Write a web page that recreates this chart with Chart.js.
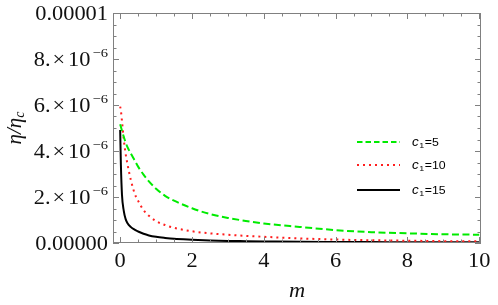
<!DOCTYPE html>
<html>
<head>
<meta charset="utf-8">
<script src="https://cdn.jsdelivr.net/npm/chart.js@4.4.1/dist/chart.umd.min.js"></script>
<style>
html, body { margin: 0; padding: 0; background: #fff; }
.preload { position: absolute; left: -9999px; top: 0; }
</style>
</head>
<body>
<canvas id="chart" width="498" height="305"></canvas>
<span class="preload" style="font-family:'Liberation Serif'">0.1 &#951;</span>
<span class="preload" style="font-family:'Liberation Serif';font-style:italic">m &#951;c</span>
<span class="preload" style="font-family:'Liberation Sans'">c1=5</span>
<span class="preload" style="font-family:'Liberation Sans';font-style:italic">c</span>
<script>
// m values (x) and eta/eta_c in units of 1e-6
var mValues = [0, 0.02, 0.05, 0.1, 0.15, 0.2, 0.3, 0.4, 0.5, 0.65, 0.8, 1, 1.25, 1.5, 2, 2.5, 3, 3.5, 4, 5, 6, 7, 8, 9, 10];
var etaC5  = [5.16, 5.05, 4.88, 4.62, 4.38, 4.18, 3.88, 3.6, 3.32, 2.97, 2.68, 2.36, 2.05, 1.84, 1.51, 1.26, 1.09, 0.96, 0.85, 0.7, 0.56, 0.47, 0.42, 0.38, 0.36];
var etaC10 = [5.93, 5.75, 5.3, 4.5, 3.9, 3.45, 2.72, 2.17, 1.83, 1.43, 1.18, 0.95, 0.78, 0.66, 0.51, 0.42, 0.36, 0.31, 0.27, 0.2, 0.15, 0.12, 0.1, 0.08, 0.07];
var etaC15 = [4.91, 3.4, 2.1, 1.4, 1.05, 0.87, 0.69, 0.58, 0.5, 0.4, 0.33, 0.27, 0.22, 0.18, 0.14, 0.11, 0.09, 0.08, 0.07, 0.05, 0.045, 0.04, 0.035, 0.03, 0.03];

var seriesNames = ['5', '10', '15'];
var xTicks = [0, 2, 4, 6, 8, 10];
var yTicks = [0, 2, 4, 6, 8, 10];
var yTickMant = ['0.00000', '2.', '4.', '6.', '8.', '0.00001'];
var yTickExp = ['', '\u22126', '\u22126', '\u22126', '\u22126', ''];

var colors = ['rgb(0,235,0)', 'rgb(255,30,30)', '#000'];
var dashes = [[7, 3.5], [2, 4], []];
var widths = [2, 2, 2];

var SERIF = '"Liberation Serif", "Times New Roman", Times, serif';
var SANS = '"Liberation Sans", Arial, Helvetica, sans-serif';

function pts(ys) {
    return mValues.map(function (m, i) { return { x: m, y: ys[i] }; });
}

var SX = 1.12; // the picture is a bit wider than tall

function stretchText(ctx, txt, x, y) {
    ctx.save();
    ctx.translate(x, y);
    ctx.scale(SX, 1);
    ctx.fillText(txt, 0, 0);
    ctx.restore();
}

var framePlugin = {
    id: 'frame',
    afterDraw: function (chart) {
        var ctx = chart.ctx;
        var a = chart.chartArea;
        var xs = chart.scales.x, ys = chart.scales.y;
        ctx.save();

        // frame
        ctx.strokeStyle = '#808080';
        ctx.lineWidth = 1;
        ctx.strokeRect(a.left + 0.5, a.top + 0.5, a.right - a.left - 1, a.bottom - a.top - 1);

        // x ticks (bottom and top, inward)
        ctx.beginPath();
        for (var v = 0; v <= 10.001; v += 0.5) {
            var px = Math.round(xs.getPixelForValue(v)) + 0.5;
            var len = (Math.abs(v % 2) < 0.01) ? 6 : 3.5;
            ctx.moveTo(px, a.bottom); ctx.lineTo(px, a.bottom - len);
            ctx.moveTo(px, a.top); ctx.lineTo(px, a.top + len);
        }
        // y ticks (left and right, inward)
        for (var w = 0; w <= 10.001; w += 0.5) {
            var py = Math.round(ys.getPixelForValue(w)) + 0.5;
            var ln = (Math.abs(w % 2) < 0.01) ? 6 : 3.5;
            ctx.moveTo(a.left, py); ctx.lineTo(a.left + ln, py);
            ctx.moveTo(a.right, py); ctx.lineTo(a.right - ln, py);
        }
        ctx.stroke();

        // x tick labels
        ctx.fillStyle = '#111';
        ctx.font = '20px ' + SERIF;
        ctx.textBaseline = 'alphabetic';
        ctx.textAlign = 'left';
        xTicks.forEach(function (t) {
            var s = String(t);
            var wdt = ctx.measureText(s).width * SX;
            stretchText(ctx, s, xs.getPixelForValue(t) - wdt / 2, 267);
        });

        // y tick labels, right aligned at x = 108
        yTicks.forEach(function (t, i) {
            var y = ys.getPixelForValue(t) + 7;
            var right = 108;
            if (yTickExp[i] === '') {
                ctx.font = '20px ' + SERIF;
                var ww = ctx.measureText(yTickMant[i]).width * SX;
                stretchText(ctx, yTickMant[i], right - ww, y);
                return;
            }
            ctx.font = '13px ' + SERIF;
            var we = ctx.measureText(yTickExp[i]).width * SX;
            stretchText(ctx, yTickExp[i], right - we, y - 9);
            var x = right - we - 2;
            ctx.font = '20px ' + SERIF;
            var w10 = ctx.measureText('10').width * SX;
            x -= w10;
            stretchText(ctx, '10', x, y);
            var wx = ctx.measureText('\u00d7').width * SX;
            x -= wx + 3;
            stretchText(ctx, '\u00d7', x, y);
            var wm = ctx.measureText(yTickMant[i]).width * SX;
            x -= wm + 2;
            stretchText(ctx, yTickMant[i], x, y);
        });

        // x axis title
        ctx.font = 'italic 20px ' + SERIF;
        var mw = ctx.measureText('m').width * SX;
        stretchText(ctx, 'm', (a.left + a.right) / 2 - mw / 2, 297);

        // y axis title, rotated: eta / eta_c
        ctx.save();
        ctx.translate(21, (a.top + a.bottom) / 2);
        ctx.rotate(-Math.PI / 2);
        ctx.font = 'italic 21px ' + SERIF;
        var w1 = ctx.measureText('\u03b7/\u03b7').width;
        ctx.font = 'italic 14px ' + SERIF;
        var w2 = ctx.measureText('c').width;
        var x0 = -(w1 + w2) / 2;
        ctx.font = 'italic 21px ' + SERIF;
        ctx.fillText('\u03b7/\u03b7', x0, 0);
        ctx.font = 'italic 14px ' + SERIF;
        ctx.fillText('c', x0 + w1, 3);
        ctx.restore();

        // legend
        var legY = [142, 165, 190];
        seriesNames.forEach(function (n, i) {
            ctx.beginPath();
            ctx.strokeStyle = colors[i];
            ctx.lineWidth = widths[i];
            ctx.setLineDash(i === 0 ? [5.5, 3] : dashes[i]);
            ctx.moveTo(357, legY[i]);
            ctx.lineTo(400, legY[i]);
            ctx.stroke();
            ctx.setLineDash([]);
            ctx.fillStyle = '#000';
            var x = 412, y = legY[i] + 4;
            ctx.font = 'italic 12px ' + SANS;
            stretchText(ctx, 'c', x, y);
            x += ctx.measureText('c').width * SX + 0.5;
            ctx.font = '8px ' + SANS;
            stretchText(ctx, '1', x, y + 2);
            x += ctx.measureText('1').width * SX + 0.5;
            ctx.font = '11px ' + SANS;
            stretchText(ctx, '=' + n, x, y);
        });

        ctx.restore();
    }
};

function build() {
    var ctx = document.getElementById('chart').getContext('2d');
    new Chart(ctx, {
        type: 'line',
        data: {
            datasets: [etaC5, etaC10, etaC15].map(function (ys, i) {
                return {
                    label: 'c1=' + seriesNames[i],
                    data: pts(ys),
                    borderColor: colors[i],
                    borderWidth: widths[i],
                    borderDash: dashes[i],
                    pointRadius: 0,
                    fill: false,
                    cubicInterpolationMode: 'monotone'
                };
            })
        },
        options: {
            responsive: false,
            animation: false,
            layout: { padding: { left: 113, top: 13, right: 17, bottom: 62 } },
            scales: {
                x: { type: 'linear', display: false, min: -0.2, max: 10.05 },
                y: { type: 'linear', display: false, min: 0, max: 10 }
            },
            plugins: { legend: { display: false }, tooltip: { enabled: false } }
        },
        plugins: [framePlugin]
    });
}

Promise.all([
    document.fonts.load('20px "Liberation Serif"'),
    document.fonts.load('italic 20px "Liberation Serif"'),
    document.fonts.load('11px "Liberation Sans"'),
    document.fonts.load('italic 12px "Liberation Sans"')
]).then(build, build);
</script>
</body>
</html>
